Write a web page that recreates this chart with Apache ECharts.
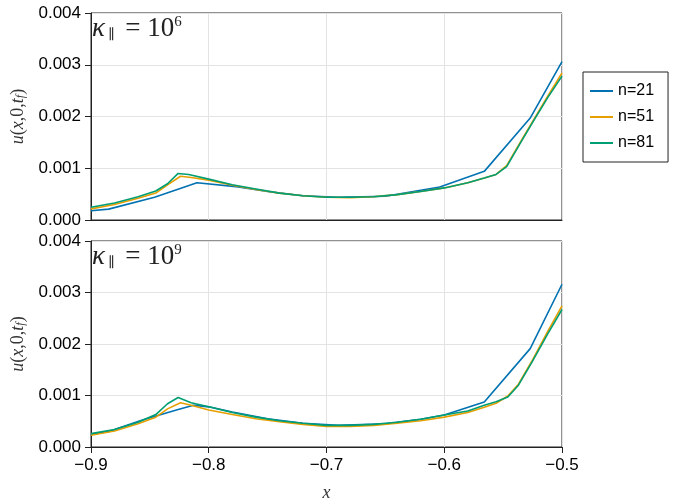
<!DOCTYPE html>
<html>
<head>
<meta charset="utf-8">
<script src="https://cdn.jsdelivr.net/npm/echarts@6/dist/echarts.min.js"></script>
<style>
  html, body { margin: 0; padding: 0; background: #fff; }
  #main { width: 675px; height: 503px; }
</style>
</head>
<body>
<div id="main"></div>
<script>
var seriesNames = ['n=21', 'n=51', 'n=81'];
var colors = ['#0072b2', '#e69f00', '#009e73'];
var xTicks = [-0.9, -0.8, -0.7, -0.6, -0.5];
var yTicks = [0, 0.001, 0.002, 0.003, 0.004];
var panelPowers = ['6', '9'];

// kappa = 1e6 (top)
var xTop21 = [-0.9, -0.885, -0.846, -0.81, -0.775, -0.75, -0.72, -0.69, -0.65, -0.605, -0.566, -0.527, -0.5];
var uTop21 = [0.00018, 0.00021, 0.00044, 0.00072, 0.00064, 0.00055, 0.00047, 0.00044, 0.00046, 0.00063, 0.00094, 0.00197, 0.00306];
var xTop51 = [-0.9, -0.88, -0.86, -0.845, -0.835, -0.824, -0.815, -0.8, -0.78, -0.76, -0.74, -0.72, -0.7, -0.68, -0.66, -0.64, -0.62, -0.6, -0.58, -0.566, -0.556, -0.547, -0.535, -0.523, -0.512, -0.5];
var uTop51 = [0.000215, 0.0003, 0.00042, 0.00052, 0.00068, 0.000845, 0.00082, 0.00077, 0.00067, 0.00059, 0.00052, 0.00047, 0.00044, 0.00043, 0.00045, 0.00049, 0.00055, 0.00062, 0.00072, 0.00081, 0.00088, 0.00105, 0.00152, 0.00198, 0.0024, 0.00284];
var xTop81 = [-0.9, -0.88, -0.86, -0.845, -0.835, -0.826, -0.817, -0.8, -0.78, -0.76, -0.74, -0.72, -0.7, -0.68, -0.66, -0.64, -0.62, -0.6, -0.58, -0.566, -0.556, -0.547, -0.535, -0.523, -0.512, -0.5];
var uTop81 = [0.000245, 0.00033, 0.00045, 0.00056, 0.0007, 0.0009, 0.00088, 0.00079, 0.00068, 0.0006, 0.00052, 0.00047, 0.00044, 0.00044, 0.00045, 0.00049, 0.00055, 0.00062, 0.00072, 0.00081, 0.00088, 0.00103, 0.0015, 0.00196, 0.00237, 0.00278];

// kappa = 1e9 (bottom)
var xBot21 = [-0.9, -0.885, -0.857, -0.826, -0.813, -0.8, -0.78, -0.75, -0.72, -0.69, -0.65, -0.62, -0.6, -0.566, -0.527, -0.5];
var uBot21 = [0.000246, 0.0003, 0.00052, 0.00073, 0.00081, 0.00078, 0.00068, 0.00055, 0.00046, 0.00042, 0.00045, 0.00054, 0.00062, 0.000875, 0.00191, 0.00316];
var xBot51 = [-0.9, -0.88, -0.86, -0.845, -0.835, -0.824, -0.815, -0.8, -0.78, -0.76, -0.74, -0.72, -0.7, -0.68, -0.66, -0.64, -0.62, -0.6, -0.58, -0.566, -0.556, -0.546, -0.537, -0.526, -0.512, -0.5];
var uBot51 = [0.000227, 0.00031, 0.00045, 0.00058, 0.00074, 0.00086, 0.00081, 0.00072, 0.00063, 0.00055, 0.00049, 0.00044, 0.0004, 0.0004, 0.00042, 0.00046, 0.00051, 0.00058, 0.00067, 0.00077, 0.00085, 0.00099, 0.00122, 0.00165, 0.00225, 0.00274];
var xBot81 = [-0.9, -0.88, -0.86, -0.845, -0.835, -0.826, -0.815, -0.8, -0.78, -0.76, -0.74, -0.72, -0.7, -0.68, -0.66, -0.64, -0.62, -0.6, -0.58, -0.566, -0.556, -0.546, -0.537, -0.526, -0.512, -0.5];
var uBot81 = [0.00026, 0.00034, 0.00048, 0.00063, 0.00084, 0.00096, 0.00086, 0.00078, 0.00067, 0.00058, 0.00051, 0.00046, 0.00042, 0.00042, 0.00044, 0.00048, 0.00054, 0.00062, 0.0007, 0.00081, 0.00088, 0.00097, 0.0012, 0.00163, 0.0022, 0.00267];

function pairs(xs, ys) {
  var out = [];
  for (var i = 0; i < xs.length; i++) out.push([xs[i], ys[i]]);
  return out;
}
function fmtX(v) { return v.toFixed(1).replace('-', '\u2212'); }

var chart = echarts.init(document.getElementById('main'));
var sans = '"Liberation Sans", Arial, sans-serif';
var serif = '"Liberation Serif", "DejaVu Serif", serif';

var grids = [
  { left: 91, top: 13, width: 471, height: 207 },
  { left: 91, top: 241, width: 471, height: 206 }
];

function makeX(idx, showLabels) {
  return {
    type: 'value', gridIndex: idx, min: xTicks[0], max: xTicks[xTicks.length - 1], interval: 0.1,
    axisLine: { show: true, onZero: false, lineStyle: { color: '#222', width: 1 } },
    axisTick: { show: showLabels, length: 6, lineStyle: { color: '#222' } },
    axisLabel: { show: showLabels, formatter: fmtX, color: '#000', fontSize: 17, fontFamily: sans, margin: 10 },
    splitLine: { show: true, lineStyle: { color: '#e3e3e3', width: 1 } },
    name: showLabels ? 'x' : '',
    nameLocation: 'middle', nameGap: 37,
    nameTextStyle: { fontFamily: serif, fontStyle: 'italic', fontSize: 18, color: '#333' }
  };
}
function makeY(idx) {
  return {
    type: 'value', gridIndex: idx, min: yTicks[0], max: yTicks[yTicks.length - 1], interval: 0.001,
    axisLine: { show: true, lineStyle: { color: '#222', width: 1 } },
    axisTick: { show: true, length: 6, lineStyle: { color: '#222' } },
    axisLabel: { formatter: function (v) { return v.toFixed(3); }, color: '#000', fontSize: 17, fontFamily: sans, margin: 10 },
    splitLine: { show: true, lineStyle: { color: '#e3e3e3', width: 1 } },
    name: '{i|u}{r|(}{i|x}{r|,0,}{i|t}{s|f}{r|)}',
    nameLocation: 'middle', nameRotate: 90, nameGap: 64,
    nameTextStyle: {
      color: '#333',
      rich: {
        i: { fontFamily: serif, fontStyle: 'italic', fontSize: 18, color: '#333' },
        r: { fontFamily: serif, fontSize: 18, color: '#333' },
        s: { fontFamily: serif, fontStyle: 'italic', fontSize: 12, color: '#333', verticalAlign: 'bottom' }
      }
    }
  };
}

var dataSets = [
  [pairs(xTop21, uTop21), pairs(xTop51, uTop51), pairs(xTop81, uTop81)],
  [pairs(xBot21, uBot21), pairs(xBot51, uBot51), pairs(xBot81, uBot81)]
];
var series = [];
for (var p = 0; p < 2; p++) {
  for (var s = 0; s < 3; s++) {
    series.push({
      name: seriesNames[s], type: 'line', xAxisIndex: p, yAxisIndex: p,
      data: dataSets[p][s], showSymbol: false, symbol: 'none', smooth: false,
      lineStyle: { color: colors[s], width: 1.6 }, itemStyle: { color: colors[s] },
      clip: true, animation: false
    });
  }
}

var panelLabels = panelPowers.map(function (pw, i) {
  return {
    type: 'text', left: 92, top: grids[i].top + 2,
    style: {
      text: '{k|\u03ba}{s|\u2225}{e| = 10}{p|' + pw + '}',
      rich: {
        k: { fontFamily: serif, fontStyle: 'italic', fontSize: 27, fill: '#222', verticalAlign: 'bottom' },
        s: { fontFamily: serif, fontSize: 14, fill: '#222', verticalAlign: 'bottom', padding: [0, 4, 0, 3] },
        e: { fontFamily: serif, fontSize: 27, fill: '#222', verticalAlign: 'bottom' },
        p: { fontFamily: serif, fontSize: 15, fill: '#222', verticalAlign: 'top' }
      }
    }
  };
});

chart.setOption({
  animation: false,
  grid: grids.map(function (g) { return Object.assign({ show: true, borderColor: '#222', borderWidth: 1, backgroundColor: 'transparent' }, g); }),
  xAxis: [makeX(0, false), makeX(1, true)],
  yAxis: [makeY(0), makeY(1)],
  legend: {
    data: seriesNames, orient: 'vertical', left: 583, top: 72,
    icon: 'rect', itemWidth: 23, itemHeight: 2, itemGap: 10,
    borderColor: '#222', borderWidth: 1, padding: [11, 14, 11, 7],
    textStyle: { fontFamily: sans, fontSize: 16, color: '#000' }
  },
  graphic: panelLabels,
  series: series
});
</script>
</body>
</html>
